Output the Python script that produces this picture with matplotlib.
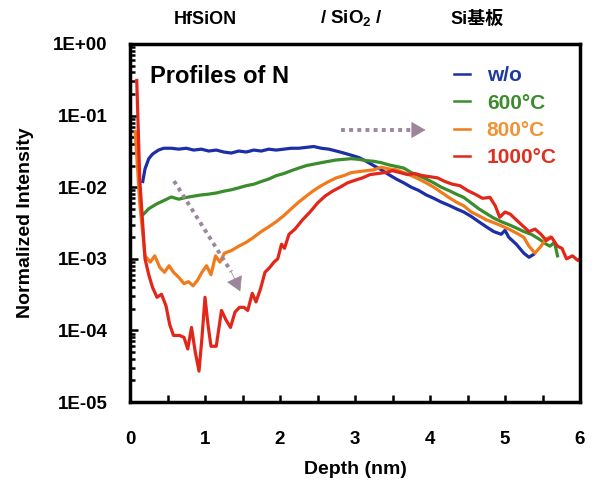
import numpy as np
import matplotlib
matplotlib.use('Agg')
import matplotlib.pyplot as plt

plt.rcParams['font.family'] = ['Liberation Sans', 'Noto Sans CJK JP', 'DejaVu Sans']
plt.rcParams['font.weight'] = 'bold'
plt.rcParams['mathtext.fontset'] = 'custom'
plt.rcParams['mathtext.rm'] = 'Liberation Sans:bold'
plt.rcParams['mathtext.bf'] = 'Liberation Sans:bold'

# N depth profiles
x_wo = [0.17, 0.2, 0.25, 0.3, 0.38, 0.45, 0.55, 0.65, 0.75, 0.85, 0.95, 1.05, 1.15, 1.25,
        1.35, 1.45, 1.55, 1.65, 1.75, 1.85, 1.95, 2.05, 2.15, 2.25, 2.35, 2.45, 2.55, 2.65, 2.75,
        2.85, 2.95, 3.05, 3.15, 3.25, 3.35, 3.45, 3.55, 3.65, 3.75, 3.85, 3.95, 4.05, 4.15, 4.25,
        4.35, 4.45, 4.55, 4.65, 4.75, 4.85, 4.95, 5.0, 5.05, 5.15, 5.25, 5.32, 5.38]
y_wo = [1.2e-2, 1.8e-2, 2.5e-2, 2.9e-2, 3.3e-2, 3.5e-2, 3.5e-2, 3.4e-2, 3.5e-2, 3.3e-2,
        3.4e-2, 3.2e-2, 3.3e-2, 3.1e-2, 3.0e-2, 3.2e-2, 3.1e-2, 3.3e-2, 3.2e-2, 3.4e-2, 3.3e-2,
        3.4e-2, 3.5e-2, 3.5e-2, 3.6e-2, 3.7e-2, 3.5e-2, 3.4e-2, 3.2e-2, 3.0e-2, 2.8e-2, 2.6e-2,
        2.3e-2, 2.0e-2, 1.75e-2, 1.5e-2, 1.3e-2, 1.15e-2, 1.0e-2, 9e-3, 7.8e-3, 7e-3, 6.2e-3,
        5.6e-3, 5e-3, 4.5e-3, 3.9e-3, 3.3e-3, 2.8e-3, 2.4e-3, 2.2e-3, 2.5e-3, 2.0e-3, 1.6e-3,
        1.2e-3, 1.05e-3, 1.15e-3]

x_600 = [0.18, 0.25, 0.35, 0.45, 0.55, 0.65, 0.75, 0.85, 0.95, 1.05, 1.15, 1.25, 1.35, 1.45, 1.55,
         1.65, 1.75, 1.85, 1.95, 2.05, 2.15, 2.25, 2.35, 2.45, 2.55, 2.65, 2.75, 2.85, 2.95, 3.05,
         3.15, 3.25, 3.35, 3.45, 3.55, 3.65, 3.75, 3.85, 3.95, 4.05, 4.15, 4.25, 4.35, 4.45, 4.55,
         4.65, 4.75, 4.85, 4.95, 5.05, 5.15, 5.25, 5.35, 5.45, 5.55, 5.6, 5.66, 5.7]
y_600 = [4.2e-3, 5e-3, 5.8e-3, 6.5e-3, 7.3e-3, 6.8e-3, 7.2e-3, 7.5e-3, 7.8e-3, 8e-3, 8.3e-3, 8.8e-3,
         9.2e-3, 9.8e-3, 1.05e-2, 1.1e-2, 1.2e-2, 1.3e-2, 1.45e-2, 1.55e-2, 1.7e-2, 1.85e-2, 2.0e-2,
         2.1e-2, 2.2e-2, 2.3e-2, 2.4e-2, 2.45e-2, 2.5e-2, 2.45e-2, 2.35e-2, 2.3e-2, 2.2e-2, 2.05e-2,
         1.95e-2, 1.85e-2, 1.6e-2, 1.45e-2, 1.3e-2, 1.15e-2, 1.0e-2, 9e-3, 8e-3, 7.2e-3, 6e-3, 5e-3,
         4.3e-3, 3.7e-3, 3.3e-3, 3e-3, 2.7e-3, 2.4e-3, 2.2e-3, 1.9e-3, 1.6e-3, 1.5e-3, 1.7e-3, 1.1e-3]

x_800 = [0.07, 0.13, 0.2, 0.27, 0.33, 0.4, 0.46, 0.52, 0.58, 0.65, 0.72, 0.78, 0.84, 0.9, 0.96,
         1.02, 1.08, 1.14, 1.2, 1.26, 1.35, 1.45, 1.55, 1.65, 1.75, 1.85, 1.95, 2.05, 2.15, 2.25,
         2.35, 2.45, 2.55, 2.65, 2.75, 2.85, 2.95, 3.05, 3.15, 3.25, 3.35, 3.45, 3.55, 3.65, 3.75,
         3.85, 3.95, 4.05, 4.15, 4.25, 4.35, 4.45, 4.55, 4.65, 4.75, 4.85, 4.95, 5.05, 5.15, 5.25,
         5.32, 5.4, 5.48, 5.55, 5.6]
y_800 = [6e-2, 6e-3, 1.1e-3, 9e-4, 1.1e-3, 7.5e-4, 6.5e-4, 8e-4, 6.5e-4, 5.5e-4, 4.5e-4, 4.8e-4,
         4.2e-4, 5e-4, 6.5e-4, 8e-4, 6e-4, 1.1e-3, 9e-4, 1.2e-3, 1.3e-3, 1.5e-3, 1.7e-3, 2.0e-3,
         2.4e-3, 2.8e-3, 3.3e-3, 4.0e-3, 5.0e-3, 6.2e-3, 7.5e-3, 9e-3, 1.05e-2, 1.2e-2, 1.35e-2,
         1.45e-2, 1.6e-2, 1.65e-2, 1.7e-2, 1.75e-2, 1.9e-2, 1.8e-2, 1.75e-2, 1.6e-2, 1.45e-2, 1.3e-2,
         1.15e-2, 1.0e-2, 8.5e-3, 7.2e-3, 6.2e-3, 5.5e-3, 4.5e-3, 4e-3, 3.5e-3, 3.2e-3, 2.9e-3,
         2.6e-3, 2.3e-3, 2.0e-3, 1.5e-3, 1.2e-3, 1.5e-3, 1.9e-3, 2.0e-3]

x_1000 = [0.09, 0.13, 0.2, 0.25, 0.3, 0.36, 0.42, 0.48, 0.53, 0.58, 0.66, 0.72, 0.77, 0.82,
          0.87, 0.92, 0.96, 1.0, 1.04, 1.08, 1.15, 1.22, 1.28, 1.34, 1.4, 1.46, 1.52, 1.57, 1.63,
          1.68, 1.74, 1.8, 1.86, 1.92, 1.97, 2.02, 2.06, 2.12, 2.2, 2.3, 2.4, 2.5, 2.6, 2.7, 2.8,
          2.9, 3.0, 3.1, 3.2, 3.3, 3.4, 3.5, 3.6, 3.7, 3.8, 3.9, 4.0, 4.1, 4.2, 4.3, 4.4, 4.5, 4.6,
          4.7, 4.8, 4.87, 4.93, 5.0, 5.07, 5.15, 5.25, 5.32, 5.4, 5.48, 5.55, 5.62, 5.7, 5.76, 5.82,
          5.9, 5.97, 6.0]
y_1000 = [0.31, 1.3e-2, 1e-3, 6e-4, 4e-4, 2.9e-4, 3.2e-4, 2.2e-4, 1.2e-4, 8.5e-5, 8.5e-5,
          8e-5, 5.5e-5, 1.1e-4, 5e-5, 2.7e-5, 8e-5, 2.9e-4, 1.2e-4, 6e-5, 6e-5, 1.9e-4, 1.4e-4,
          1.1e-4, 1.8e-4, 2.1e-4, 2.1e-4, 1.9e-4, 3.3e-4, 2.5e-4, 3.8e-4, 6.5e-4, 7.5e-4, 9e-4,
          1.0e-3, 1.6e-3, 1.4e-3, 2.2e-3, 2.6e-3, 3.5e-3, 4.5e-3, 6e-3, 7.5e-3, 8.8e-3, 1.0e-2,
          1.15e-2, 1.25e-2, 1.35e-2, 1.5e-2, 1.55e-2, 1.6e-2, 1.7e-2, 1.6e-2, 1.5e-2, 1.55e-2,
          1.45e-2, 1.4e-2, 1.35e-2, 1.2e-2, 1.1e-2, 1.05e-2, 9e-3, 8e-3, 7e-3, 7.2e-3, 5.5e-3,
          3.8e-3, 4.5e-3, 4.2e-3, 3.5e-3, 2.8e-3, 2.4e-3, 2.6e-3, 2.2e-3, 1.8e-3, 2e-3, 1.5e-3,
          1.4e-3, 1.0e-3, 1.1e-3, 9.5e-4, 1.0e-3]

labels = ['w/o', '600°C', '800°C', '1000°C']
line_colors = ['#1c2fa6', '#3a8c2c', '#f07a1c', '#e2261a']
text_colors = ['#1f3a9a', '#3a8c2c', '#f39234', '#e0301e']
ytick_labels = ['1E-05', '1E-04', '1E-03', '1E-02', '1E-01', '1E+00']

# trend arrows: (start, line end, tip) in data coords
arrow_diag = [(0.587, 1.22e-2), (1.35, 6.6e-4), (1.47, 3.5e-4)]
arrow_horiz = [(2.81, 6.3e-2), (3.76, 6.3e-2), (3.94, 6.3e-2)]
arrow_color = '#9c869c'

fig = plt.figure(figsize=(5.94, 4.87), dpi=100)
ax = fig.add_axes([130 / 594, 1 - 402 / 487, 450 / 594, 358 / 487])

series = [(x_wo, y_wo), (x_600, y_600), (x_800, y_800), (x_1000, y_1000)]
for (xs, ys), lab, c in zip(series, labels, line_colors):
    ax.plot(xs, ys, color=c, lw=2.3, label=lab)

for p0, p1, tip in (arrow_diag, arrow_horiz):
    ax.plot([p0[0], p1[0]], [p0[1], p1[1]], color=arrow_color, lw=2.8,
            linestyle=(0, (1, 1.1)), dash_capstyle='butt')
    ax.annotate('', xy=tip, xytext=p1,
                arrowprops=dict(arrowstyle='-|>,head_length=0.55,head_width=0.32',
                                color=arrow_color, lw=0.5, mutation_scale=17,
                                shrinkA=0, shrinkB=0))

ax.set_yscale('log')
ax.set_xlim(0, 6)
ax.set_ylim(1e-5, 1)
ax.set_yticks([1e-5, 1e-4, 1e-3, 1e-2, 1e-1, 1])
ax.set_yticklabels(ytick_labels)
ax.set_xticks(range(7))
ax.set_xticks(np.arange(0.5, 6, 1.0), minor=True)
ax.tick_params(axis='both', which='both', direction='in', labelsize=13.5, width=1.8)
ax.tick_params(axis='x', which='both', length=5, pad=21)
ax.tick_params(axis='y', which='major', length=6, pad=16)
ax.tick_params(axis='y', which='minor', length=3.5)
for s in ax.spines.values():
    s.set_linewidth(2.5)

ax.set_xlabel('Depth (nm)', fontsize=14, fontweight='bold', labelpad=9)
ax.set_ylabel('Normalized Intensity', fontsize=14, fontweight='bold', labelpad=14)

ax.text(0.045, 0.89, 'Profiles of N', transform=ax.transAxes, fontsize=17,
        fontweight='bold', va='baseline')

leg = ax.legend(loc='upper right', bbox_to_anchor=(0.99, 0.99), frameon=False,
                handlelength=0.75, handletextpad=0.8, labelspacing=0.4,
                prop={'size': 15, 'weight': 'bold'})
for t, c in zip(leg.get_texts(), text_colors):
    t.set_color(c)
for h in leg.legend_handles:
    h.set_linewidth(1.8)

fig.text(205 / 594, 1 - 19 / 487, 'HfSiON', ha='center', va='center', fontsize=13, fontweight='bold')
fig.text(352 / 594, 1 - 19 / 487, '/ SiO$_2$ /', ha='center', va='center', fontsize=13.5, fontweight='bold')
fig.text(477 / 594, 1 - 19 / 487, 'Si基板', ha='center', va='center', fontsize=13, fontweight='bold')

fig.savefig('out.png', dpi=100)
